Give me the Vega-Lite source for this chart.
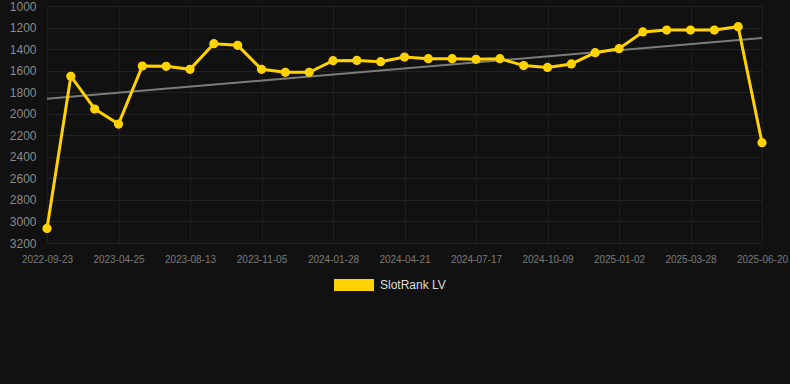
{
  "$schema": "https://vega.github.io/schema/vega-lite/v6.json",
  "width": 722,
  "height": 237,
  "autosize": "none",
  "padding": {"left": 40, "top": 6, "right": 28, "bottom": 141},
  "background": "#111111",
  "config": {
    "view": {"stroke": null},
    "font": "Liberation Sans"
  },
  "data": {
    "values": [
      {"date": "2022-09-23", "rank": 3065, "trend": 1861, "series": "SlotRank LV"},
      {"date": "2022-12-15", "rank": 1652, "series": "SlotRank LV"},
      {"date": "2023-02-20", "rank": 1956, "series": "SlotRank LV"},
      {"date": "2023-04-25", "rank": 2096, "series": "SlotRank LV"},
      {"date": "2023-06-01", "rank": 1557, "series": "SlotRank LV"},
      {"date": "2023-07-08", "rank": 1560, "series": "SlotRank LV"},
      {"date": "2023-08-13", "rank": 1588, "series": "SlotRank LV"},
      {"date": "2023-09-10", "rank": 1350, "series": "SlotRank LV"},
      {"date": "2023-10-08", "rank": 1365, "series": "SlotRank LV"},
      {"date": "2023-11-05", "rank": 1588, "series": "SlotRank LV"},
      {"date": "2023-12-03", "rank": 1616, "series": "SlotRank LV"},
      {"date": "2023-12-31", "rank": 1616, "series": "SlotRank LV"},
      {"date": "2024-01-28", "rank": 1508, "series": "SlotRank LV"},
      {"date": "2024-02-25", "rank": 1505, "series": "SlotRank LV"},
      {"date": "2024-03-24", "rank": 1517, "series": "SlotRank LV"},
      {"date": "2024-04-21", "rank": 1474, "series": "SlotRank LV"},
      {"date": "2024-05-20", "rank": 1489, "series": "SlotRank LV"},
      {"date": "2024-06-18", "rank": 1489, "series": "SlotRank LV"},
      {"date": "2024-07-17", "rank": 1495, "series": "SlotRank LV"},
      {"date": "2024-08-14", "rank": 1489, "series": "SlotRank LV"},
      {"date": "2024-09-11", "rank": 1553, "series": "SlotRank LV"},
      {"date": "2024-10-09", "rank": 1570, "series": "SlotRank LV"},
      {"date": "2024-11-06", "rank": 1538, "series": "SlotRank LV"},
      {"date": "2024-12-04", "rank": 1433, "series": "SlotRank LV"},
      {"date": "2025-01-02", "rank": 1396, "series": "SlotRank LV"},
      {"date": "2025-01-30", "rank": 1241, "series": "SlotRank LV"},
      {"date": "2025-02-28", "rank": 1223, "series": "SlotRank LV"},
      {"date": "2025-03-28", "rank": 1223, "series": "SlotRank LV"},
      {"date": "2025-04-25", "rank": 1223, "series": "SlotRank LV"},
      {"date": "2025-05-23", "rank": 1192, "series": "SlotRank LV"},
      {"date": "2025-06-20", "rank": 2269, "trend": 1298, "series": "SlotRank LV"}
    ]
  },
  "encoding": {
    "x": {
      "field": "date",
      "type": "ordinal",
      "scale": {"type": "point", "range": [7, 722], "padding": 0},
      "axis": {
        "title": null,
        "values": ["2022-09-23", "2023-04-25", "2023-08-13", "2023-11-05", "2024-01-28", "2024-04-21", "2024-07-17", "2024-10-09", "2025-01-02", "2025-03-28", "2025-06-20"],
        "labelAngle": 0,
        "labelFontSize": 10,
        "labelColor": "#7a7a7a",
        "labelPadding": 11,
        "labelOverlap": false,
        "ticks": false,
        "domain": false,
        "grid": true,
        "gridColor": "#1e1e1e",
        "gridWidth": 1
      }
    }
  },
  "layer": [
    {
      "transform": [{"filter": "datum.trend != null"}],
      "mark": {"type": "line", "color": "#7c7c7c", "strokeWidth": 2},
      "encoding": {
        "y": {
          "field": "trend",
          "type": "quantitative",
          "scale": {"domain": [1000, 3200], "reverse": true, "nice": false, "zero": false},
          "axis": {
            "title": null,
            "values": [1000, 1200, 1400, 1600, 1800, 2000, 2200, 2400, 2600, 2800, 3000, 3200],
            "format": "d",
            "labelOverlap": false,
            "labelFontSize": 12,
            "labelColor": "#8a8a8a",
            "labelPadding": 4,
            "ticks": false,
            "domain": false,
            "grid": true,
            "gridColor": "#222222",
            "gridWidth": 1
          }
        }
      }
    },
    {
      "mark": {"type": "line", "color": "#FFD200", "strokeWidth": 3},
      "encoding": {
        "y": {
          "field": "rank",
          "type": "quantitative",
          "scale": {"domain": [1000, 3200], "reverse": true, "nice": false, "zero": false},
          "axis": {
            "title": null,
            "values": [1000, 1200, 1400, 1600, 1800, 2000, 2200, 2400, 2600, 2800, 3000, 3200],
            "format": "d",
            "labelOverlap": false,
            "labelFontSize": 12,
            "labelColor": "#8a8a8a",
            "labelPadding": 4,
            "ticks": false,
            "domain": false,
            "grid": true,
            "gridColor": "#222222",
            "gridWidth": 1
          }
        }
      }
    },
    {
      "mark": {"type": "point", "filled": true, "opacity": 1, "size": 85},
      "encoding": {
        "y": {
          "field": "rank",
          "type": "quantitative",
          "scale": {"domain": [1000, 3200], "reverse": true, "nice": false, "zero": false},
          "axis": {
            "title": null,
            "values": [1000, 1200, 1400, 1600, 1800, 2000, 2200, 2400, 2600, 2800, 3000, 3200],
            "format": "d",
            "labelOverlap": false,
            "labelFontSize": 12,
            "labelColor": "#8a8a8a",
            "labelPadding": 4,
            "ticks": false,
            "domain": false,
            "grid": true,
            "gridColor": "#222222",
            "gridWidth": 1
          }
        },
        "color": {
          "field": "series",
          "type": "nominal",
          "scale": {"range": ["#FFD200"]},
          "legend": {
            "title": null,
            "orient": "none",
            "legendX": 294,
            "legendY": 259,
            "direction": "horizontal",
            "symbolType": "M-1,-0.3H1V0.3H-1Z",
            "symbolSize": 1600,
            "symbolStrokeWidth": 0,
            "symbolOpacity": 1,
            "labelFontSize": 12,
            "labelColor": "#dddddd",
            "labelOffset": 6
          }
        }
      }
    }
  ]
}
